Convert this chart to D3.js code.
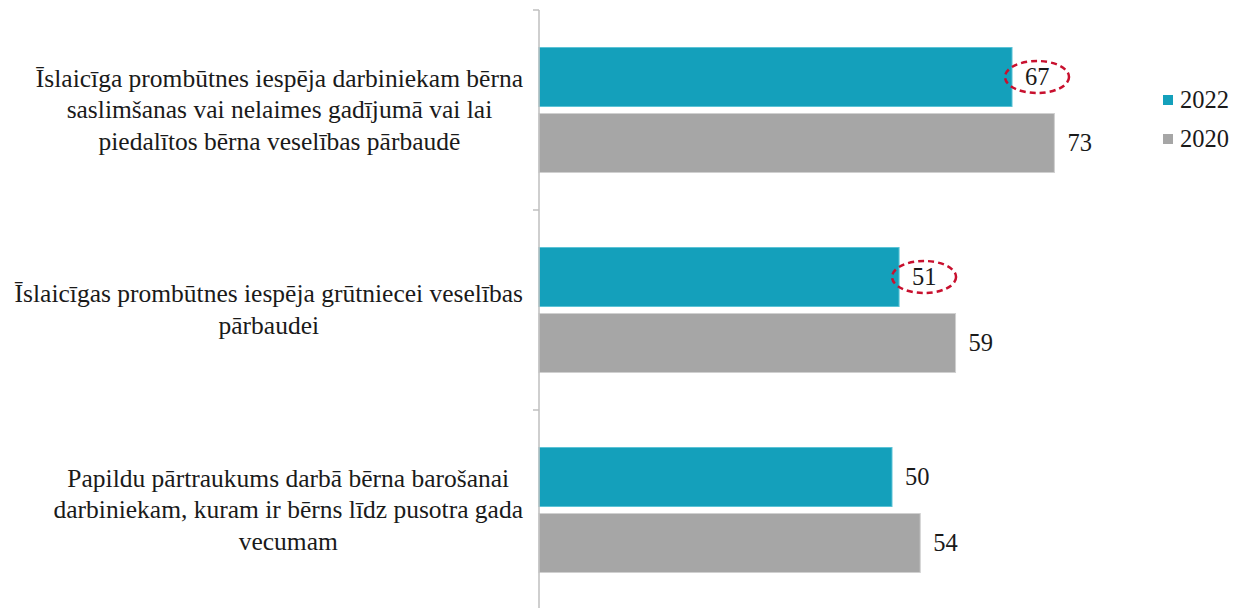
<!DOCTYPE html>
<html>
<head>
<meta charset="utf-8">
<script src="https://cdn.jsdelivr.net/npm/d3@7"></script>
</head>
<body style="margin:0">
<script>
const categories = [
  ["Īslaicīga prombūtnes iespēja darbiniekam bērna", "saslimšanas vai nelaimes gadījumā vai lai", "piedalītos bērna veselības pārbaudē"],
  ["Īslaicīgas prombūtnes iespēja grūtniecei veselības", "pārbaudei"],
  ["Papildu pārtraukums darbā bērna barošanai", "darbiniekam, kuram ir bērns līdz pusotra gada", "vecumam"]
]
const years = ["2022", "2020"]
const values2022 = [67, 51, 50]
const values2020 = [73, 59, 54]
const highlighted = [true, true, false] // dashed ring round the 2022 label

const width = 1246
const height = 608
const labelSize = 25.5
const numberSize = 24.5

const colors = {
  y2022: '#14a0bb',
  y2020: '#a6a6a6',
  axis: '#bfbfbf',
  ring: '#c8102e',
  text: '#1a1a1a'
}

const svg = d3.select('body').append('svg')
  .attr('width', width)
  .attr('height', height)

const keys = categories.map((c, i) => i)

const y = d3.scaleBand()
  .domain(keys)
  .range([10, 610])

const yInner = d3.scaleBand()
  .domain(years)
  .range([37.5, 162.5])
  .paddingInner(0.106)

const x = d3.scaleLinear()
  .domain([0, 100])
  .range([539, 1245])

const rows = keys.map(i => ({
  i,
  bars: [
    { year: '2022', value: values2022[i], ring: highlighted[i] },
    { year: '2020', value: values2020[i], ring: false }
  ]
}))

// bars
const groups = svg.append('g').selectAll('g')
  .data(rows)
  .join('g')
  .attr('transform', d => `translate(0,${y(d.i)})`)

groups.selectAll('rect')
  .data(d => d.bars)
  .join('rect')
  .attr('x', x(0))
  .attr('y', d => yInner(d.year))
  .attr('width', d => x(d.value) - x(0))
  .attr('height', yInner.bandwidth())
  .attr('fill', d => d.year === '2022' ? colors.y2022 : colors.y2020)
  .attr('stroke', d => d.year === '2022' ? '#5cc3d6' : '#d0d0d0')
  .attr('stroke-width', 1)

// value labels
groups.selectAll('text.val')
  .data(d => d.bars)
  .join('text')
  .attr('class', 'val')
  .attr('x', d => x(d.value) + 13)
  .attr('y', d => yInner(d.year) + yInner.bandwidth() / 2 + 8)
  .attr('font-size', numberSize)
  .style('font-family', '"Liberation Serif"')
  .attr('fill', colors.text)
  .text(d => d.value)

groups.selectAll('ellipse')
  .data(d => d.bars.filter(b => b.ring))
  .join('ellipse')
  .attr('cx', d => x(d.value) + 25)
  .attr('cy', d => yInner(d.year) + yInner.bandwidth() / 2)
  .attr('rx', 32)
  .attr('ry', 16)
  .attr('fill', 'none')
  .attr('stroke', colors.ring)
  .attr('stroke-width', 2.5)
  .attr('stroke-dasharray', '6,4')

// axis
const axis = svg.append('g')
axis.append('line')
  .attr('x1', x(0)).attr('x2', x(0))
  .attr('y1', y.range()[0]).attr('y2', height)
  .attr('stroke', colors.axis)
  .attr('stroke-width', 1.5)

axis.selectAll('line.tick')
  .data(keys)
  .join('line')
  .attr('class', 'tick')
  .attr('x1', x(0) - 6).attr('x2', x(0))
  .attr('y1', d => y(d)).attr('y2', d => y(d))
  .attr('stroke', colors.axis)
  .attr('stroke-width', 1.5)

// category labels: lines centred, block right-aligned near the axis
const lineGap = 31.5
const labelRight = 523
rows.forEach(r => {
  const lines = categories[r.i]
  const texts = svg.append('g').selectAll('text')
    .data(lines)
    .join('text')
    .attr('font-size', labelSize)
    .style('font-family', '"Liberation Serif"')
    .attr('fill', colors.text)
    .attr('text-anchor', 'middle')
    .text(d => d)
  const maxW = d3.max(texts.nodes(), n => n.getComputedTextLength())
  const cy = y(r.i) + y.bandwidth() / 2
  texts
    .attr('x', labelRight - maxW / 2)
    .attr('y', (d, k) => cy + 8 + (k - (lines.length - 1) / 2) * lineGap)
})

// legend
const legend = svg.append('g')
  .selectAll('g')
  .data(years)
  .join('g')
  .attr('transform', (d, i) => `translate(1163,${100 + i * 39})`)

legend.append('rect')
  .attr('x', 0).attr('y', -5)
  .attr('width', 10).attr('height', 10)
  .attr('fill', d => d === '2022' ? colors.y2022 : colors.y2020)

legend.append('text')
  .attr('x', 17)
  .attr('y', 8)
  .attr('font-size', numberSize)
  .style('font-family', '"Liberation Serif"')
  .attr('fill', colors.text)
  .text(d => d)
</script>
</body>
</html>
